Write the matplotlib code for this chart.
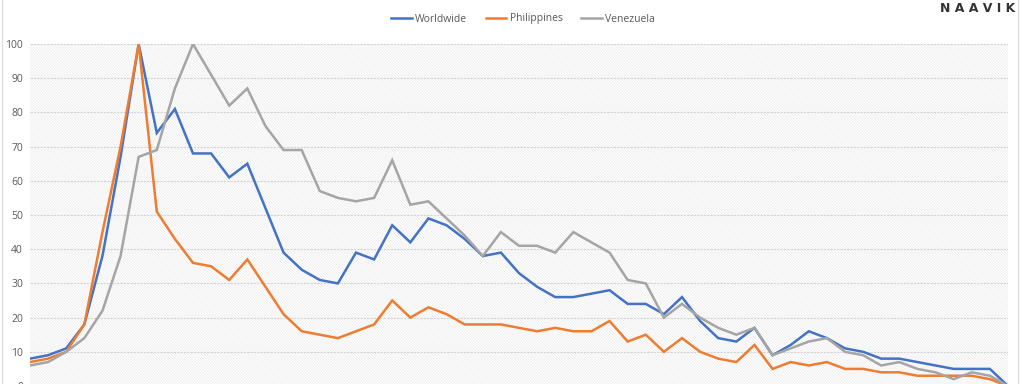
import numpy as np
import matplotlib
matplotlib.use("Agg")
import matplotlib.pyplot as plt
from matplotlib.patches import Rectangle

# search interest, weekly index
worldwide = [8, 9, 11, 18, 38, 67, 100, 74, 81, 68, 68, 61, 65, 52, 39,
             34, 31, 30, 39, 37, 47, 42, 49, 47, 43, 38, 39, 33, 29, 26,
             26, 27, 28, 24, 24, 21, 26, 19, 14, 13, 17, 9, 12, 16, 14,
             11, 10, 8, 8, 7, 6, 5, 5, 5, 0]
philippines = [7, 8, 10, 18, 45, 70, 100, 51, 43, 36, 35, 31, 37, 29, 21,
               16, 15, 14, 16, 18, 25, 20, 23, 21, 18, 18, 18, 17, 16, 17,
               16, 16, 19, 13, 15, 10, 14, 10, 8, 7, 12, 5, 7, 6, 7,
               5, 5, 4, 4, 3, 3, 3, 3, 2, 0]
venezuela = [6, 7, 10, 14, 22, 38, 67, 69, 87, 100, 91, 82, 87, 76, 69,
             69, 57, 55, 54, 55, 66, 53, 54, 49, 44, 38, 45, 41, 41, 39,
             45, 42, 39, 31, 30, 20, 24, 20, 17, 15, 17, 9, 11, 13, 14,
             10, 9, 6, 7, 5, 4, 2, 4, 3, 0]
series_names = ["Worldwide", "Philippines", "Venezuela"]
series_colors = ["#4472C4", "#ED7D31", "#A5A5A5"]
yticks = [0, 10, 20, 30, 40, 50, 60, 70, 80, 90, 100]

plt.rcParams["hatch.linewidth"] = 0.4
plt.rcParams["font.family"] = ["Open Sans", "DejaVu Sans"]

W, H = 1024, 384
fig = plt.figure(figsize=(W / 100, H / 100), dpi=100)
fig.patch.set_facecolor("white")

# axes placed in pixel terms: x 30..1008, y(100)=44, y(0)=386 (just below the image)
left, right, top, bottom = 30, 1008, 44, 386
ax = fig.add_axes([left / W, (H - bottom) / H, (right - left) / W, (bottom - top) / H])
ax.set_facecolor("white")

# fine diagonal hatched background
bg = Rectangle((0, 0), 1, 1, transform=ax.transAxes, facecolor="white",
               edgecolor="#e4e4e4", hatch="\\" * 12, lw=0, zorder=0)
ax.add_patch(bg)

x = np.arange(len(worldwide))
for vals, name, col in zip([worldwide, philippines, venezuela], series_names, series_colors):
    ax.plot(x, vals, color=col, lw=1.8, label=name, zorder=3,
            solid_joinstyle="miter")

ax.set_xlim(0, len(worldwide) - 1)
ax.set_ylim(0, 100)
ax.set_yticks(yticks)
ax.set_xticks([])
ax.yaxis.grid(True, color="#d4d4d4", lw=0.8, linestyle=(0, (2, 1)), zorder=1)
ax.set_axisbelow(True)
ax.tick_params(axis="y", length=0, pad=5, labelsize=7.5, labelcolor="#595959")
for s in ax.spines.values():
    s.set_visible(False)

leg = fig.legend(loc="center", bbox_to_anchor=(523 / W, 1 - 19 / H), ncol=3,
                 frameon=False, fontsize=7.5, handlelength=2.0, handletextpad=0.3,
                 columnspacing=1.8)
for t in leg.get_texts():
    t.set_color("#595959")
for l in leg.get_lines():
    l.set_linewidth(1.8)

# logo text
fig.text(978 / W, 1 - 9 / H, "N A A V I K", ha="center", va="center",
         fontsize=9, fontweight="bold", color="#333333", family="DejaVu Sans")

# thin frame lines of the original chart image
fig.add_artist(plt.Line2D([1018 / W, 1018 / W], [0, 1], color="#d9d9d9", lw=0.8))
fig.add_artist(plt.Line2D([1.5 / W, 1.5 / W], [0, 1], color="#d9d9d9", lw=0.8))

fig.savefig("out.png", dpi=100)
